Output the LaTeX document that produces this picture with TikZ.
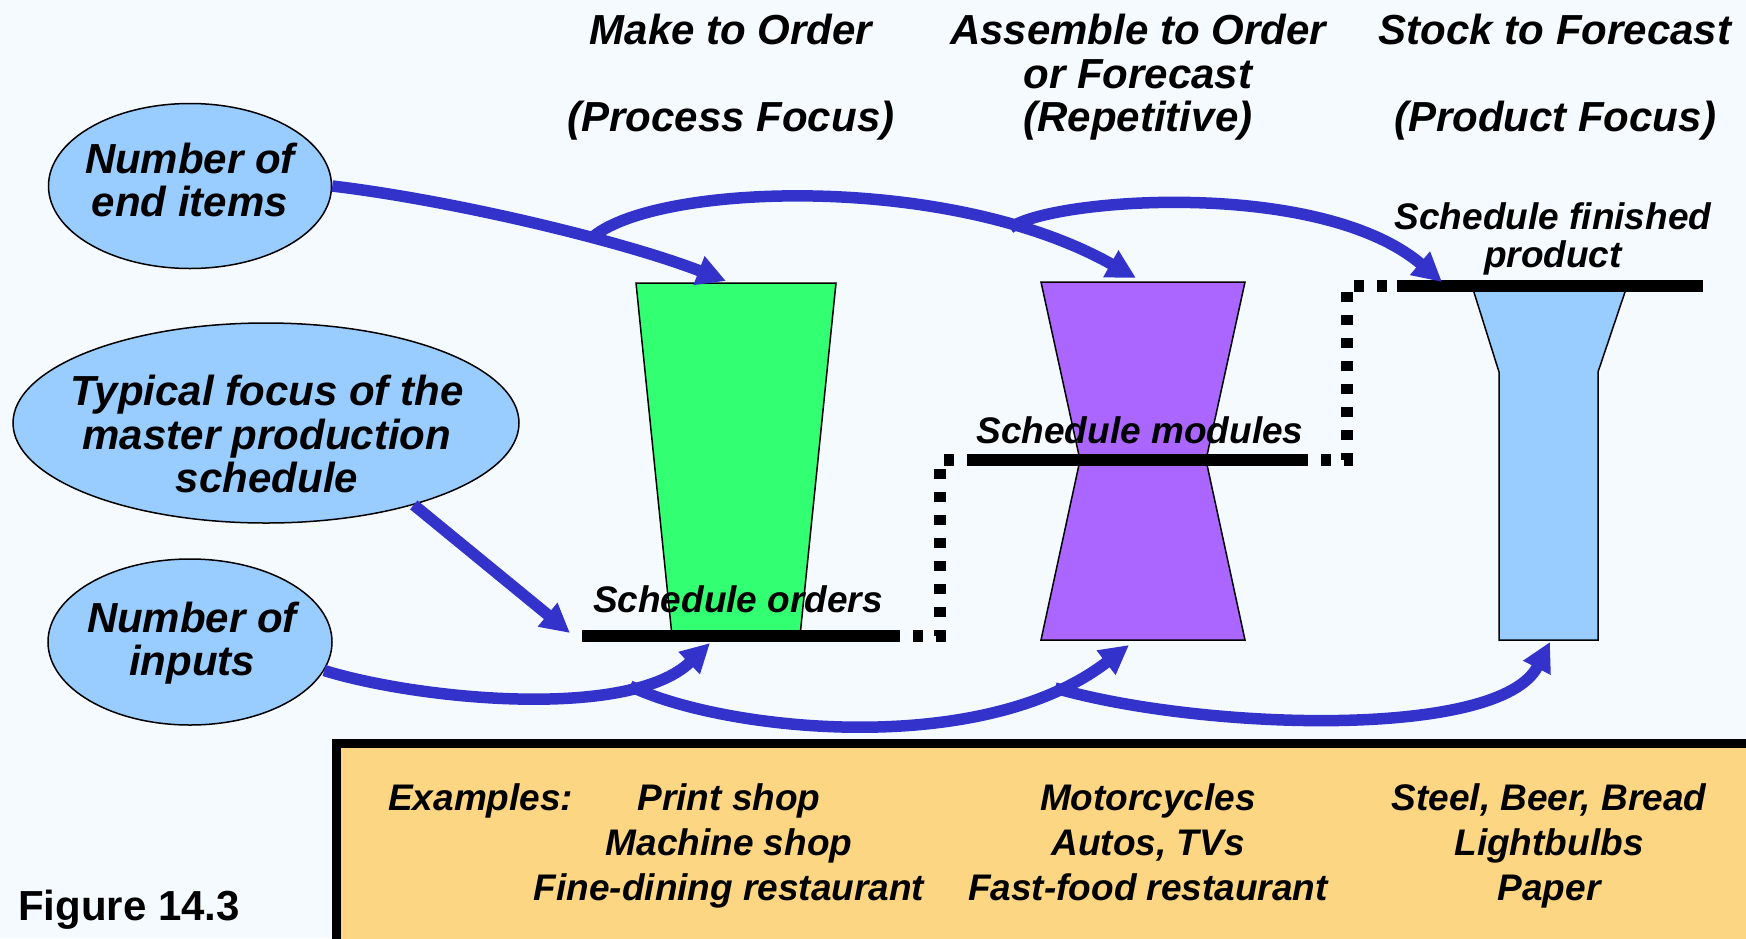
\documentclass[tikz,border=0pt]{standalone}
\usepackage{fontspec}
\setmainfont{Liberation Sans}
\usetikzlibrary{shapes.geometric,arrows.meta,positioning}
\definecolor{paper}{RGB}{245,250,255}
\definecolor{bubbleblue}{RGB}{153,204,255}
\definecolor{mtogreen}{RGB}{51,255,115}
\definecolor{atopurple}{RGB}{170,102,255}
\definecolor{flowblue}{RGB}{51,51,204}
\definecolor{boxorange}{RGB}{252,214,130}
\newcommand{\bigtext}{\fontsize{42}{43.5}\selectfont\bfseries\itshape}
\newcommand{\smalltext}{\fontsize{37}{38}\selectfont\bfseries\itshape}
\tikzstyle{heading} = [font=\bigtext, align=center, inner sep=0pt]
\tikzstyle{bubble} = [ellipse, draw, line width=1.5pt, fill=bubbleblue, inner sep=0pt]
\tikzstyle{bubbletext} = [font=\bigtext, align=center, inner sep=0pt]
\tikzstyle{stage} = [font=\smalltext, align=center, inner sep=0pt]
\tikzstyle{example} = [font=\smalltext, anchor=base, inner sep=0pt]
\tikzstyle{bar} = [fill=black, inner sep=0pt, minimum height=12pt]
\tikzstyle{handoff} = [line width=12pt, dash pattern=on 10pt off 13pt]
\tikzstyle{flow} = [draw=flowblue, line width=11.5pt, -{Triangle[length=29pt,width=29pt]}]
\tikzstyle{outline} = [line width=1.5pt]
\newcommand{\listExamples}[5]{
  \node[example] (#2a) at (#1,810) {#3};
  \node[example] (#2b) at (#1,855) {#4};
  \node[example] (#2c) at (#1,900) {#5};
}

\begin{document}
\begin{tikzpicture}[x=1pt, y=-1pt]
      \fill[paper] (0,0) rectangle (1746,938);
      \useasboundingbox (0,0) rectangle (1746,938);

      % headings
      \node[heading, anchor=north] (mtoHead) at (731,14) {Make to Order\\[43.5pt](Process Focus)};
      \node[heading, anchor=north] (atoHead) at (1138,14) {Assemble to Order\\or Forecast\\(Repetitive)};
      \node[heading, anchor=north] (stfHead) at (1555,14) {Stock to Forecast\\[43.5pt](Product Focus)};

      % bubbles
      \node[bubble, minimum width=283pt, minimum height=165pt] (endItems) at (190,186) {};
      \node[bubbletext] (endItemsText) at (190,180) {Number of\\end items};
      \node[bubble, minimum width=506pt, minimum height=200pt] (focus) at (266,423) {};
      \node[bubbletext] (focusText) at (267,434) {Typical focus of the\\master production\\schedule};
      \node[bubble, minimum width=284pt, minimum height=166pt] (inputs) at (190,642) {};
      \node[bubbletext] (inputsText) at (192,643) {Number of\\inputs};

      % make to order
      \draw[outline, fill=mtogreen] (636,283) -- (836,283) -- (800,636) -- (672,636) -- cycle;
      % assemble to order
      \draw[outline, fill=atopurple] (1041,282) -- (1245,282) -- (1206,460) -- (1245,640)
        -- (1041,640) -- (1080,460) -- cycle;
      % stock to forecast
      \draw[outline, fill=bubbleblue] (1472,286) -- (1627,286) -- (1598,372) -- (1598,640)
        -- (1499,640) -- (1499,372) -- cycle;

      % schedule levels
      \node[bar, minimum width=308pt] (ordersBar) at (736,636) {};
      \node[bar, minimum width=322pt] (modulesBar) at (1137,460) {};
      \node[bar, minimum width=306pt] (finishedBar) at (1550,286) {};
      \draw[handoff] (ordersBar.east) -- ++(50,0) |- (modulesBar.west);
      \draw[handoff] (modulesBar.east) -- ++(49,0) |- (finishedBar.west);
      \node[stage, anchor=base] (ordersLabel) at (738,612) {Schedule orders};
      \node[stage, anchor=base] (modulesLabel) at (1140,443) {Schedule modules};
      \node[stage, anchor=north] (finishedLabel) at (1553,202) {Schedule finished\\product};

      % tips and branch points
      \coordinate (mtoTop) at (726,281);
      \coordinate (atoTop) at (1136,278);
      \coordinate (stfTop) at (1442,282);
      \coordinate (ordersTip) at (570,633);
      \coordinate (mtoBottom) at (710,643);
      \coordinate (atoBottom) at (1129,645);
      \coordinate (stfBottom) at (1550,642);
      \coordinate (splitA) at (594,236);
      \coordinate (splitB) at (1010,228);
      \coordinate (splitC) at (630,686);
      \coordinate (splitD) at (1055,688);

      \draw[flow] (endItems.east) .. controls (450,200) and (620,240) .. (mtoTop);
      \draw[flow] (splitA) .. controls (660,183) and (950,173) .. (atoTop);
      \draw[flow] (splitB) .. controls (1050,198) and (1320,178) .. (stfTop);
      \draw[flow] (focus.-29) -- (ordersTip);
      \draw[flow] (inputs.-12) .. controls (420,700) and (630,720) .. (mtoBottom);
      \draw[flow] (splitC) .. controls (720,730) and (980,760) .. (atoBottom);
      \draw[flow] (splitD) .. controls (1200,730) and (1500,740) .. (stfBottom);

      % examples
      \draw[line width=9pt, fill=boxorange] (336,743) rectangle (1760,945);
      \node[example, anchor=base west] (examplesTag) at (388,810) {Examples:};
      \listExamples{729}{mto}{Print shop}{Machine shop}{Fine-dining restaurant}
      \listExamples{1148}{ato}{Motorcycles}{Autos, TVs}{Fast-food restaurant}
      \listExamples{1549}{stf}{Steel, Beer, Bread}{Lightbulbs}{Paper}

      \node[anchor=base west, font=\fontsize{42}{43}\selectfont\bfseries, inner sep=0pt] (figLabel) at (18,920) {Figure 14.3};
    \end{tikzpicture}
\end{document}
